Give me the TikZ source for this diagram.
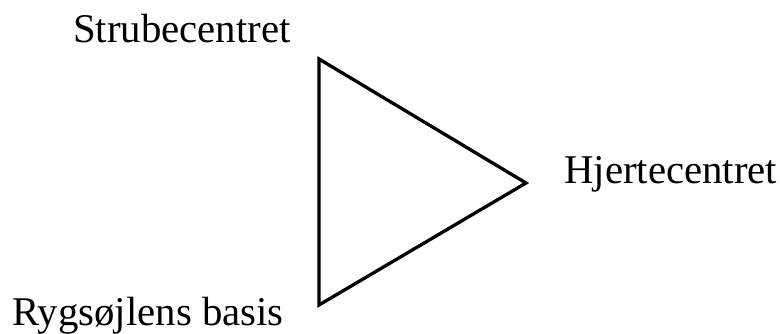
\documentclass[tikz,border=0pt]{standalone}
\usepackage{fontspec}
\setmainfont{Liberation Serif}
\begin{document}
\begin{tikzpicture}[x=1pt,y=-1pt,
  lbl/.style={anchor=base west,inner sep=0pt,font=\fontsize{40.8}{48}\selectfont},
  edge/.style={line width=3.3pt,line join=miter}]
\useasboundingbox (0,0) rectangle (780,334);
\coordinate (top) at (319,59);
\coordinate (right) at (526,183);
\coordinate (bot) at (319,305);
\draw[edge] (top) -- (right) -- (bot) -- cycle;
\node[lbl] (s) at (73,43) {Strubecentret};
\node[lbl] (h) at (564,184) {Hjertecentret};
\node[lbl] (r) at (12,325) {Rygsøjlens basis};
\end{tikzpicture}
\end{document}
